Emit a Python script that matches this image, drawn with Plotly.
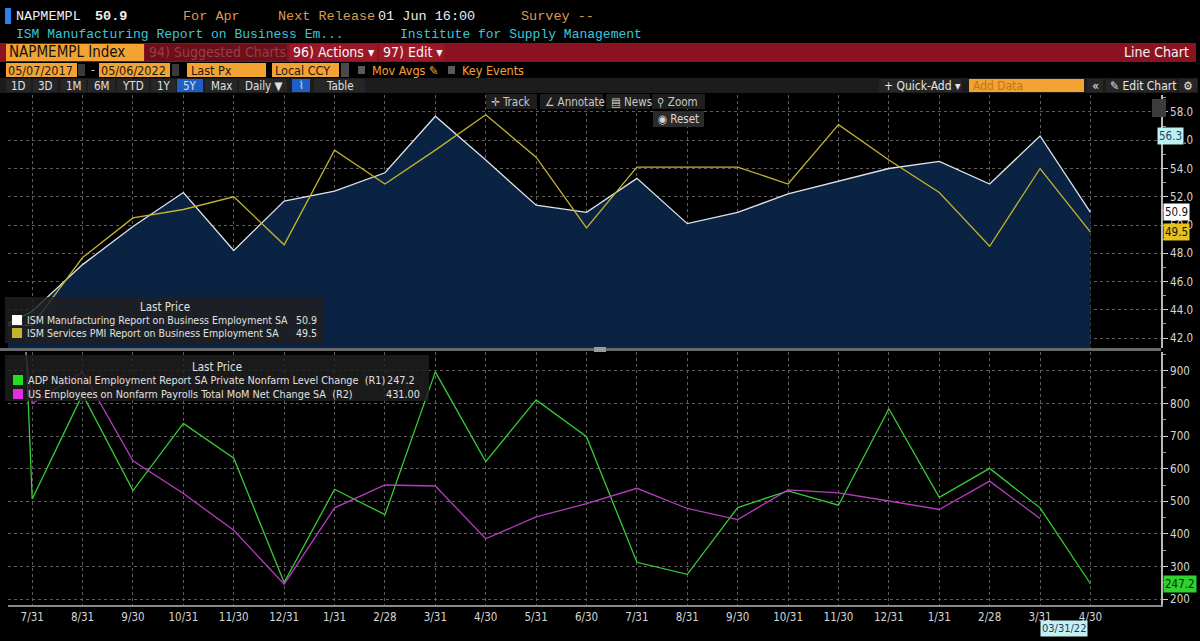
import plotly.graph_objects as go

W, H = 1200, 641

dates = [
    "2020-06-30", "2020-07-31", "2020-08-31", "2020-09-30", "2020-10-31", "2020-11-30",
    "2020-12-31", "2021-01-31", "2021-02-28", "2021-03-31", "2021-04-30", "2021-05-31",
    "2021-06-30", "2021-07-31", "2021-08-31", "2021-09-30", "2021-10-31", "2021-11-30",
    "2021-12-31", "2022-01-31", "2022-02-28", "2022-03-31", "2022-04-30",
]
tick_labels = ["7/31", "8/31", "9/30", "10/31", "11/30", "12/31", "1/31", "2/28", "3/31",
               "4/30", "5/31", "6/30", "7/31", "8/31", "9/30", "10/31", "11/30", "12/31",
               "1/31", "2/28", "3/31", "4/30"]

# top panel
ism_mfg = [42.1, 43.9, 47.2, 49.9, 52.3, 48.2, 51.7, 52.4, 53.7, 57.7, 54.6, 51.4,
           50.9, 53.3, 50.1, 50.9, 52.2, 53.1, 54.0, 54.5, 52.9, 56.3, 50.9]
ism_svc = [42.9, 42.9, 47.7, 50.5, 51.1, 52.0, 48.6, 55.3, 52.9, 55.3, 57.8, 54.8,
           49.8, 54.1, 54.1, 54.1, 52.9, 57.1, 54.6, 52.3, 48.5, 54.0, 49.5]

# bottom panel
adp = [4300, 507, 828, 533, 739, 632, 251, 537, 459, 897, 622, 811,
       698, 313, 276, 481, 532, 488, 784, 512, 601, 480, 247.2]
nfp = [2000, 800, 897, 624, 524, 411, 246, 480, 550, 547, 385, 452,
       493, 540, 478, 444, 535, 526, 501, 475, 562, 447, None]

top_names = ["ISM Manufacturing Report on Business Employment SA",
             "ISM Services PMI Report on Business Employment SA"]
bottom_names = ["ADP National Employment Report SA Private Nonfarm Level Change  (R1)",
                "US Employees on Nonfarm Payrolls Total MoM Net Change SA  (R2)"]
last_text = ["50.9", "49.5", "247.2", "431.00"]

WHITE = "#dde4ec"
YELLOW = "#c4b32c"
GREEN = "#36cc36"
MAGENTA = "#b63cc0"
FILL = "#0b2343"
GRID = "#5e5e5e"
ORANGE = "#f2a332"
UI = "Liberation Sans Narrow, DejaVu Sans Condensed, Roboto, sans-serif"
MONO = "Liberation Mono, DejaVu Sans Mono, monospace"

shapes = []
annotations = []


def box(x0, y0, x1, y1, color):
    shapes.append(dict(type="rect", xref="paper", yref="paper",
                       x0=x0 / W, x1=x1 / W, y0=1 - y1 / H, y1=1 - y0 / H,
                       fillcolor=color, line=dict(width=0), layer="above"))


def label(x, y, text, color, size=12, anchor="left", family=UI, bg=None):
    annotations.append(dict(xref="paper", yref="paper", x=x / W, y=1 - y / H,
                            text=text, showarrow=False, xanchor=anchor, yanchor="middle",
                            font=dict(color=color, size=size, family=family),
                            bgcolor=bg, borderpad=0))


# ---- header rows
box(5, 8, 11, 24, "#2f7fe6")
label(15, 16, "NAPMEMPL", "#f0f0f0", 13.5, family=MONO)
label(94, 16, "<b>50.9</b>", "#f0f0f0", 13.5, family=MONO)
label(182, 16, "For Apr", "#dc9a4c", 13.5, family=MONO)
label(277, 16, "Next Release", "#dc9a4c", 13.5, family=MONO)
label(377, 16, "01 Jun 16:00", "#ececec", 13.5, family=MONO)
label(520, 16, "Survey --", "#dc9a4c", 13.5, family=MONO)
label(15, 34, "ISM Manufacturing Report on Business Em...", "#3fc6d6", 13, family=MONO)
label(399, 34, "Institute for Supply Management", "#3fc6d6", 13, family=MONO)

box(0, 43, 1196, 62, "#8a1221")
box(6, 44, 144, 61, ORANGE)
label(8, 52.5, "NAPMEMPL Index", "#111111", 15)
box(145, 44, 287, 61, "#6d0e19")
label(148, 52.5, "94) Suggested Charts", "#92404c", 14)
box(289, 44, 377, 61, "#9c1828")
label(292, 52.5, "96) Actions ▾", "#f4f4f4", 14)
box(379, 44, 444, 61, "#9c1828")
label(382, 52.5, "97) Edit ▾", "#f4f4f4", 14)
label(1190, 52.5, "Line Chart", "#f4f4f4", 14, anchor="right")

box(6, 63, 77, 77, ORANGE)
label(7, 70, "05/07/2017", "#1a1a1a", 12.5)
box(78, 64, 85, 76, "#3a3a3a")
label(90, 70, "-", "#d0d0d0", 12)
box(99, 63, 170, 77, ORANGE)
label(100, 70, "05/06/2022", "#1a1a1a", 12.5)
box(172, 64, 179, 76, "#3a3a3a")
box(187, 63, 266, 77, ORANGE)
label(190, 70, "Last Px", "#1a1a1a", 12.5)
box(272, 63, 339, 77, ORANGE)
label(274, 70, "Local CCY", "#1a1a1a", 12.5)
box(341, 63, 349, 77, "#4a4a4a")
box(358, 66, 365, 74, "#5a5a5a")
label(371, 70, "Mov Avgs ✎", ORANGE, 12.5)
box(448, 66, 455, 74, "#5a5a5a")
label(461, 70, "Key Events", ORANGE, 12.5)

box(0, 78, 1198, 93, "#1c1c1c")
buttons = [(6, 31, "1D"), (33, 57, "3D"), (61, 86, "1M"), (88, 115, "6M"), (117, 149, "YTD"),
           (151, 176, "1Y"), (177, 203, "5Y"), (205, 237, "Max"), (239, 287, "Daily ▼"),
           (292, 310, ""), (314, 365, "Table")]
for x0, x1, t in buttons:
    blue = t in ("5Y", "")
    box(x0, 79, x1, 92, "#1d5fc4" if blue else "#262626")
    if t:
        label((x0 + x1) / 2, 85.5, t, "#e0e0e0", 11.5, anchor="center")
label(301, 85.5, "⌇", "#e0e0e0", 11, anchor="center")
box(879, 79, 962, 92, "#262626")
label(883, 85.5, "+ Quick-Add ▾", "#e6e6e6", 12)
box(969, 79, 1084, 92, ORANGE)
label(972, 85.5, "Add Data", "#c27614", 12)
box(1087, 79, 1103, 92, "#262626")
label(1095, 85.5, "«", "#e6e6e6", 13, anchor="center")
box(1106, 79, 1176, 92, "#262626")
label(1109, 85.5, "✎ Edit Chart", "#e6e6e6", 12)
box(1179, 79, 1197, 92, "#262626")
label(1188, 85.5, "⚙", "#e6e6e6", 12, anchor="center")

# ---- chart toolbar
for x0, x1, t in [(486, 537, "✛ Track"), (540, 603, "∠ Annotate"),
                  (606, 650, "▤ News"), (652, 705, "⚲ Zoom")]:
    box(x0, 94, x1, 109, "#1e1e1e")
    label(x0 + 4, 101.5, t, "#c8c8c8", 11.5)
box(653, 111, 704, 127, "#2a2a2a")
label(657, 119, "◉ Reset", "#d8d8d8", 11.5)
box(1152, 99, 1166, 117, "#3c3c3c")

# ---- legends
box(5, 297, 324, 343, "rgba(32,32,32,0.82)")
label(165, 307, "Last Price", "#e0e0e0", 11.5, anchor="center")
for i, (name, col) in enumerate(zip(top_names, [WHITE, YELLOW])):
    yy = 320 + i * 13
    box(12, yy - 5, 22, yy + 5, col if i else "#ffffff")
    label(26, yy, name, "#e0e0e0", 10.5)
    label(318, yy, last_text[i], "#e0e0e0", 10.5, anchor="right")

box(5, 355, 429, 401, "rgba(32,32,32,0.82)")
label(217, 367, "Last Price", "#e0e0e0", 11.5, anchor="center")
for i, (name, col) in enumerate(zip(bottom_names, ["#22dd22", "#e030e0"])):
    yy = 380 + i * 14
    box(13, yy - 5, 23, yy + 5, col)
    label(27, yy, name, "#e0e0e0", 10.8)
    label(421 if i else 416, yy, last_text[2 + i], "#e0e0e0", 10.8, anchor="right")

# panel separator
box(0, 348, 1161, 351, "#6a6a6a")
box(594, 347, 606, 352, "#9a9a9a")

fig = go.Figure()
fig.add_trace(go.Scatter(x=dates, y=ism_mfg, mode="lines", name=top_names[0],
                         line=dict(color=WHITE, width=1.3), fill="tozeroy",
                         fillcolor=FILL, xaxis="x", yaxis="y"))
fig.add_trace(go.Scatter(x=dates, y=ism_svc, mode="lines", name=top_names[1],
                         line=dict(color=YELLOW, width=1.3), xaxis="x", yaxis="y"))
fig.add_trace(go.Scatter(x=dates, y=adp, mode="lines", name=bottom_names[0],
                         line=dict(color=GREEN, width=1.3), xaxis="x2", yaxis="y2"))
fig.add_trace(go.Scatter(x=dates, y=nfp, mode="lines", name=bottom_names[1],
                         line=dict(color=MAGENTA, width=1.3), xaxis="x2", yaxis="y2"))

# value tags on the right axis
for val, txt, bg, fg, ax in [(56.3, "56.3", "#bff0f0", "#1a4a66", "y"),
                             (ism_mfg[-1], last_text[0], "#ffffff", "#111111", "y"),
                             (ism_svc[-1], last_text[1], "#e6c21e", "#111111", "y"),
                             (adp[-1], last_text[2], "#2fd22f", "#0a2a0a", "y2")]:
    annotations.append(dict(xref="paper", yref=ax, x=(1163 if txt != "56.3" else 1157) / W,
                            y=val, text=txt, showarrow=False, xanchor="left",
                            yanchor="middle", bgcolor=bg, borderpad=1,
                            font=dict(color=fg, size=11.5, family=UI)))
annotations.append(dict(xref="x2", yref="paper", x=dates[-2], y=1 - 628 / H, text="03/31/22",
                        showarrow=False, xanchor="left", yanchor="middle", bgcolor="#c4f0f4",
                        borderpad=1, font=dict(color="#1a3a66", size=11, family=UI)))

xdom = [8 / W, 1161 / W]
common_x = dict(domain=xdom, type="category", range=[0.52, 23.4], tickvals=dates[1:],
                showgrid=True, gridcolor=GRID, griddash="dot", gridwidth=1,
                zeroline=False, fixedrange=True)
common_y = dict(side="right", showgrid=True, gridcolor=GRID, griddash="dot", gridwidth=1,
                zeroline=False, showline=True, linecolor="#b8b8b8", linewidth=1.5,
                ticks="outside", ticklen=5, tickcolor="#d0d0d0",
                tickfont=dict(color="#d6d6d6", size=11.5, family=UI), fixedrange=True)

fig.update_layout(
    width=W, height=641,
    margin=dict(l=0, r=0, t=0, b=0),
    paper_bgcolor="#000000", plot_bgcolor="#000000",
    showlegend=False,
    font=dict(family=UI, color="#d6d6d6"),
    xaxis=dict(anchor="y", showticklabels=False, **common_x),
    xaxis2=dict(anchor="y2", ticktext=tick_labels, showline=True, linecolor="#8a8a8a",
                linewidth=2, ticks="", tickfont=dict(color="#d6d6d6", size=11.5, family=UI),
                **common_x),
    yaxis=dict(anchor="x", domain=[1 - 348 / H, 1 - 95 / H], range=[41.3, 59.2],
               tick0=42, dtick=2, tickformat=".1f",
               minor=dict(dtick=1, ticks="outside", ticklen=3, tickcolor="#9a9a9a",
                          showgrid=False), **common_y),
    yaxis2=dict(anchor="x2", domain=[1 - 605 / H, 1 - 352 / H], range=[182, 958],
                tick0=200, dtick=100,
                minor=dict(dtick=50, ticks="outside", ticklen=3, tickcolor="#9a9a9a",
                           showgrid=False), **common_y),
    shapes=shapes,
    annotations=annotations,
)

fig.write_html("out.html", config={"displayModeBar": False},
               post_script="document.body.style.margin='0';document.body.style.overflow='hidden';")
